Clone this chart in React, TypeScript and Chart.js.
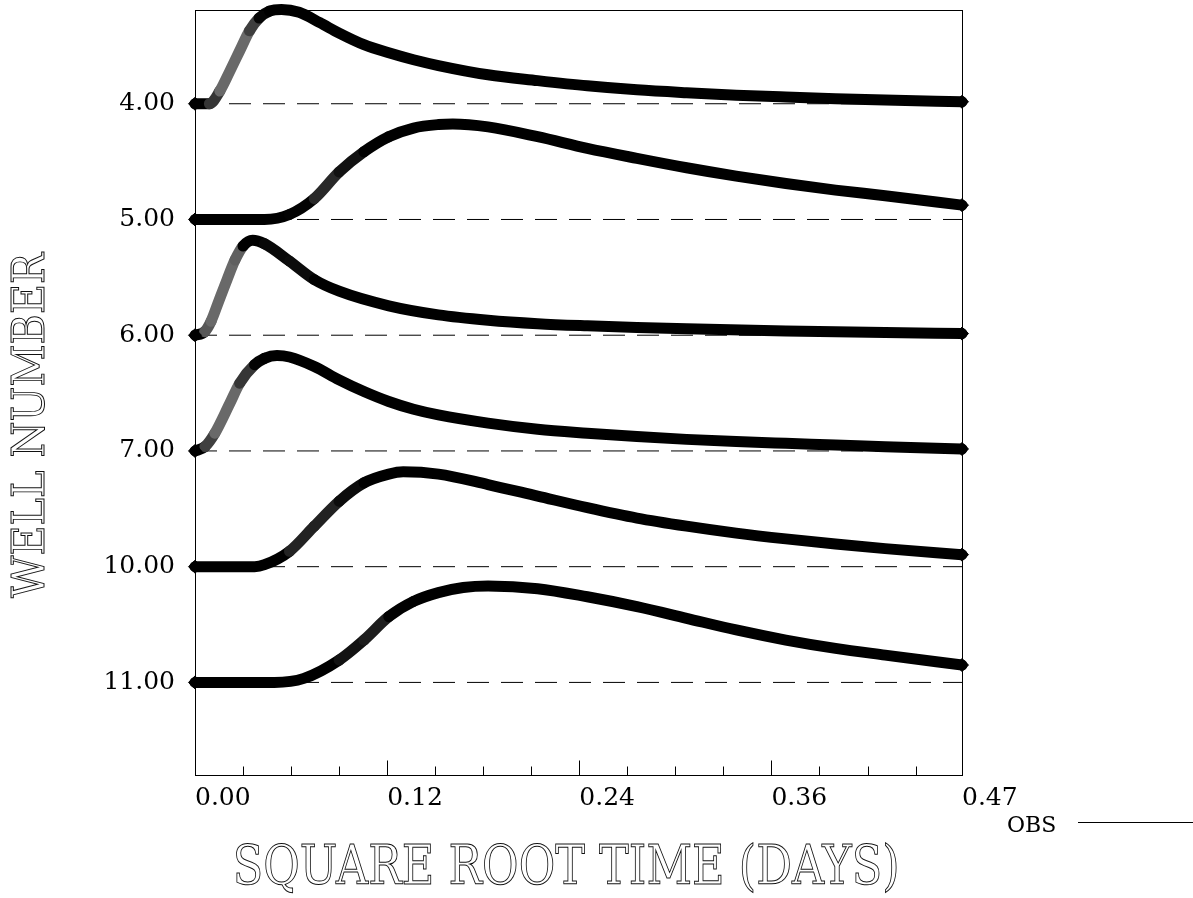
import React, { useEffect, useRef } from "react";
import { Chart, registerables } from "chart.js";

Chart.register(...registerables);

// ---- data ----
const wellLabels = ["4.00", "5.00", "6.00", "7.00", "10.00", "11.00"];

// Each well: square-root time (days) and response (fraction of one row spacing above baseline)
const well4Time = [0, 0.009, 0.0155, 0.0217, 0.028, 0.034, 0.04, 0.0465, 0.054, 0.065, 0.078, 0.09, 0.1055, 0.121, 0.1365, 0.152, 0.183, 0.214, 0.245, 0.276, 0.307, 0.338, 0.369, 0.4, 0.431, 0.479];
const well4Resp = [0, 0, 0.11, 0.28, 0.46, 0.63, 0.74, 0.8, 0.815, 0.79, 0.7, 0.61, 0.51, 0.44, 0.38, 0.33, 0.25, 0.2, 0.155, 0.12, 0.095, 0.074, 0.058, 0.044, 0.032, 0.017];

const well5Time = [0, 0.0434, 0.059, 0.0745, 0.09, 0.1055, 0.121, 0.1365, 0.152, 0.161, 0.183, 0.214, 0.245, 0.276, 0.307, 0.338, 0.369, 0.4, 0.431, 0.479];
const well5Resp = [0, 0, 0.043, 0.18, 0.41, 0.585, 0.715, 0.79, 0.82, 0.825, 0.8, 0.715, 0.614, 0.528, 0.447, 0.375, 0.311, 0.254, 0.205, 0.124];

const well6Time = [0, 0.006, 0.01, 0.015, 0.02, 0.025, 0.03, 0.036, 0.0434, 0.059, 0.0745, 0.09, 0.121, 0.152, 0.183, 0.214, 0.245, 0.276, 0.307, 0.369, 0.431, 0.479];
const well6Resp = [0, 0.03, 0.12, 0.3, 0.48, 0.65, 0.77, 0.82, 0.79, 0.64, 0.48, 0.38, 0.254, 0.176, 0.13, 0.1, 0.081, 0.066, 0.055, 0.037, 0.023, 0.014];

const well7Time = [0, 0.0062, 0.0124, 0.0217, 0.0279, 0.0372, 0.0434, 0.0512, 0.059, 0.0745, 0.09, 0.1055, 0.121, 0.1365, 0.152, 0.183, 0.214, 0.245, 0.276, 0.307, 0.338, 0.369, 0.4, 0.431, 0.479];
const well7Resp = [0, 0.037, 0.153, 0.41, 0.585, 0.744, 0.8, 0.825, 0.812, 0.73, 0.614, 0.513, 0.427, 0.36, 0.311, 0.24, 0.187, 0.153, 0.124, 0.1, 0.081, 0.066, 0.052, 0.037, 0.017];

const well10Time = [0, 0.0372, 0.0434, 0.059, 0.0745, 0.09, 0.1055, 0.121, 0.13, 0.152, 0.183, 0.214, 0.245, 0.276, 0.307, 0.338, 0.369, 0.4, 0.431, 0.479];
const well10Resp = [0, 0, 0.017, 0.133, 0.35, 0.565, 0.724, 0.8, 0.82, 0.8, 0.71, 0.61, 0.51, 0.42, 0.35, 0.29, 0.24, 0.196, 0.156, 0.104];

const well11Time = [0, 0.0496, 0.068, 0.09, 0.1055, 0.121, 0.1365, 0.152, 0.1675, 0.183, 0.214, 0.245, 0.276, 0.307, 0.338, 0.369, 0.4, 0.431, 0.479];
const well11Resp = [0, 0, 0.035, 0.193, 0.366, 0.568, 0.7, 0.776, 0.82, 0.833, 0.81, 0.74, 0.655, 0.554, 0.453, 0.366, 0.294, 0.236, 0.15];

const wellTimes = [well4Time, well5Time, well6Time, well7Time, well10Time, well11Time];
const wellResps = [well4Resp, well5Resp, well6Resp, well7Resp, well10Resp, well11Resp];

const xTickValues = [0, 0.12, 0.24, 0.36, 0.479];
const xTickLabels = ["0.00", "0.12", "0.24", "0.36", "0.47"];
const xMinorTicks = [0.03, 0.06, 0.09, 0.15, 0.18, 0.21, 0.27, 0.3, 0.33, 0.39, 0.42, 0.45];
const xMajorTicks = [0.12, 0.24, 0.36];

const xTitle = "SQUARE ROOT TIME (DAYS)";
const yTitle = "WELL NUMBER";
const legendLabel = "OBS";

const X_MAX = 0.479;
const SERIF = '"DejaVu Serif", "Liberation Serif", serif';

function drawFittedText(
  ctx: CanvasRenderingContext2D,
  text: string,
  cx: number,
  cy: number,
  capH: number,
  targetW: number,
  rotate: boolean
) {
  const size = capH / 0.729;
  ctx.save();
  ctx.font = `${size}px ${SERIF}`;
  const w = ctx.measureText(text).width;
  ctx.translate(cx, cy);
  if (rotate) ctx.rotate(-Math.PI / 2);
  ctx.scale(targetW / w, 1);
  ctx.textAlign = "center";
  ctx.textBaseline = "alphabetic";
  ctx.lineWidth = 1;
  ctx.strokeStyle = "#111";
  ctx.strokeText(text, 0, capH / 2);
  ctx.restore();
}

// steep stretches of the marker trail look lighter (separated diamond outlines)
function slopeShade(c: any) {
  const dx = Math.abs(c.p1.x - c.p0.x) || 0.001;
  const s = Math.abs(c.p1.y - c.p0.y) / dx;
  const g = Math.max(0, Math.min(105, Math.round((s - 0.6) * 85)));
  return `rgb(${g},${g},${g})`;
}

const decorPlugin = {
  id: "decor",
  afterDraw(chart: any) {
    const { ctx, chartArea } = chart;
    const { left, right, top, bottom } = chartArea;
    const xs = chart.scales.x;
    ctx.save();
    ctx.strokeStyle = "#000";
    ctx.lineWidth = 1;
    ctx.strokeRect(Math.round(left) + 0.5, Math.round(top) + 0.5, Math.round(right - left), Math.round(bottom - top));
    ctx.beginPath();
    const b = Math.round(bottom) + 0.5;
    for (const v of xMajorTicks) {
      const px = Math.round(xs.getPixelForValue(v)) + 0.5;
      ctx.moveTo(px, b);
      ctx.lineTo(px, b - 15);
    }
    for (const v of xMinorTicks) {
      const px = Math.round(xs.getPixelForValue(v)) + 0.5;
      ctx.moveTo(px, b);
      ctx.lineTo(px, b - 9);
    }
    ctx.stroke();

    // axis titles
    drawFittedText(ctx, xTitle, left + (right - left) * 0.484, bottom + 89, 40, 667, false);
    drawFittedText(ctx, yTitle, 27, top + (bottom - top) * 0.543, 33, 345, true);

    // legend
    ctx.font = `22px ${SERIF}`;
    ctx.fillStyle = "#000";
    ctx.textAlign = "left";
    ctx.textBaseline = "alphabetic";
    ctx.fillText(legendLabel, right + 45, bottom + 57);
    ctx.beginPath();
    ctx.moveTo(right + 116, bottom + 47.5);
    ctx.lineTo(right + 231, bottom + 47.5);
    ctx.stroke();
    ctx.restore();
  },
};

export default function App() {
  const canvasRef = useRef<HTMLCanvasElement | null>(null);

  useEffect(() => {
    const canvas = canvasRef.current;
    if (!canvas) return;

    const baselineSets = wellLabels.map((lab, i) => ({
      label: "base " + lab,
      data: [
        { x: 0, y: i },
        { x: X_MAX, y: i },
      ],
      borderColor: "#000",
      borderWidth: 1,
      borderDash: [22, 12],
      pointRadius: 0,
      fill: false,
      order: 2,
    }));

    const curveSets = wellResps.map((vals, i) => {
      const times = wellTimes[i];
      const last = times.length - 1;
      return {
        label: "OBS " + wellLabels[i],
        data: times.map((t, k) => ({ x: t, y: i - vals[k] })),
        borderColor: "#000",
        backgroundColor: "#000",
        borderWidth: 11,
        borderJoinStyle: "round" as const,
        borderCapStyle: "round" as const,
        cubicInterpolationMode: "monotone" as const,
        segment: { borderColor: slopeShade },
        pointStyle: "rectRot" as const,
        pointRadius: (c: any) => (c.dataIndex === 0 || c.dataIndex === last ? 6.5 : 0),
        pointBorderWidth: 1,
        pointBackgroundColor: "#000",
        pointBorderColor: "#000",
        fill: false,
        clip: false as any,
        order: 1,
      };
    });

    const chart = new Chart(canvas, {
      type: "line",
      data: { datasets: [...baselineSets, ...curveSets] as any },
      options: {
        animation: false,
        responsive: false,
        maintainAspectRatio: false,
        parsing: false as any,
        layout: { padding: { left: 0, top: 10, right: 231, bottom: 0 } },
        plugins: {
          legend: { display: false },
          tooltip: { enabled: false },
          title: { display: false },
        },
        scales: {
          x: {
            type: "linear",
            min: 0,
            max: X_MAX,
            grid: { display: false, drawTicks: false },
            border: { display: false },
            afterBuildTicks: (s: any) => {
              s.ticks = xTickValues.map((v) => ({ value: v }));
            },
            afterFit: (s: any) => {
              s.height = 123;
              s.paddingLeft = 0;
              s.paddingRight = 0;
            },
            ticks: {
              align: "start",
              autoSkip: false,
              maxRotation: 0,
              minRotation: 0,
              padding: 8,
              color: "#000",
              font: { family: SERIF, size: 25 },
              callback: (_v: any, idx: number) => xTickLabels[idx],
            },
          },
          y: {
            type: "linear",
            min: -0.81,
            max: 5.8,
            reverse: true,
            grid: { display: false, drawTicks: false },
            border: { display: false },
            afterBuildTicks: (s: any) => {
              s.ticks = wellLabels.map((_l, i) => ({ value: i }));
            },
            afterFit: (s: any) => {
              s.width = 195;
              s.paddingTop = 0;
              s.paddingBottom = 0;
            },
            ticks: {
              autoSkip: false,
              padding: 20,
              color: "#000",
              font: { family: SERIF, size: 25 },
              callback: (v: any) => wellLabels[Math.round(Number(v))],
            },
          },
        },
      },
      plugins: [decorPlugin],
    });

    return () => chart.destroy();
  }, []);

  return (
    <div style={{ position: "absolute", left: 0, top: 0, width: 1193, height: 898, background: "#fff" }}>
      <canvas ref={canvasRef} width={1193} height={898} />
    </div>
  );
}
